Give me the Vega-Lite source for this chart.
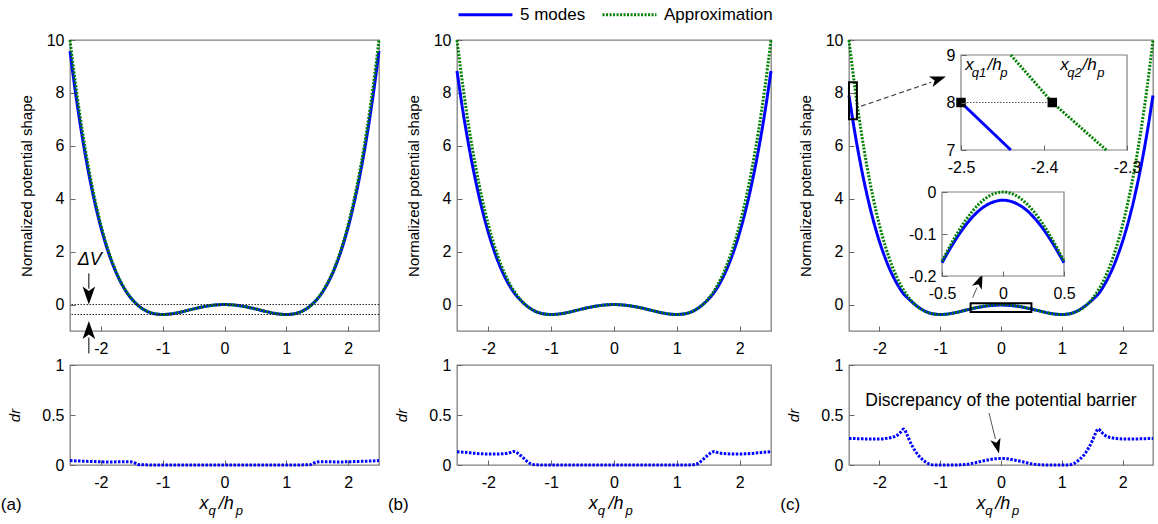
{
"$schema": "https://vega.github.io/schema/vega-lite/v6.json",
"padding": {"left": 0, "top": -15, "right": 0, "bottom": 0},
"background": "#ffffff",
"columns": 3,
"bounds": "flush",
"spacing": {"row": 34, "column": 78},
"resolve": {"legend": {"color": "independent", "strokeDash": "independent"}},
"config": {
 "font": "Liberation Sans",
 "view": {"stroke": "#808080", "strokeWidth": 1.3},
 "axis": {"domain": false, "grid": false, "ticks": true, "tickSize": -5, "tickColor": "#666666", "tickWidth": 1, "labelFontSize": 16, "labelColor": "#000000", "titleFontSize": 15, "titleFontWeight": "normal", "titleColor": "#000000", "labelFlush": false, "labelOverlap": false},
 "axisX": {"labelPadding": 14},
 "axisY": {"labelPadding": 11}
},
"datasets": {
"pot": [
{"p":"a","x":-2.5,"m":9.579,"a":10,"d":0.044},
{"p":"a","x":-2.4,"m":7.832,"a":8.153,"d":0.041},
{"p":"a","x":-2.3,"m":6.312,"a":6.552,"d":0.038},
{"p":"a","x":-2.2,"m":4.995,"a":5.175,"d":0.036},
{"p":"a","x":-2.1,"m":3.870,"a":4.001,"d":0.034},
{"p":"a","x":-2,"m":2.918,"a":3.012,"d":0.032},
{"p":"a","x":-1.9,"m":2.122,"a":2.188,"d":0.031},
{"p":"a","x":-1.8,"m":1.467,"a":1.513,"d":0.031},
{"p":"a","x":-1.7,"m":0.938,"a":0.968,"d":0.032},
{"p":"a","x":-1.65,"m":0.718,"a":0.741,"d":0.032},
{"p":"a","x":-1.6,"m":0.523,"a":0.540,"d":0.033},
{"p":"a","x":-1.55,"m":0.352,"a":0.364,"d":0.033},
{"p":"a","x":-1.5,"m":0.206,"a":0.212,"d":0.03},
{"p":"a","x":-1.45,"m":0.080,"a":0.081,"d":0.02},
{"p":"a","x":-1.4,"m":-0.029,"a":-0.030,"d":0.005},
{"p":"a","x":-1.35,"m":-0.121,"a":-0.122,"d":0.003},
{"p":"a","x":-1.3,"m":-0.197,"a":-0.197,"d":0.002},
{"p":"a","x":-1.25,"m":-0.257,"a":-0.257,"d":0.001},
{"p":"a","x":-1.2,"m":-0.304,"a":-0.304,"d":0},
{"p":"a","x":-1.15,"m":-0.337,"a":-0.337,"d":0},
{"p":"a","x":-1.1,"m":-0.360,"a":-0.360,"d":0},
{"p":"a","x":-1,"m":-0.376,"a":-0.376,"d":0},
{"p":"a","x":-0.9,"m":-0.363,"a":-0.363,"d":0},
{"p":"a","x":-0.8,"m":-0.328,"a":-0.328,"d":0},
{"p":"a","x":-0.7,"m":-0.279,"a":-0.279,"d":0},
{"p":"a","x":-0.6,"m":-0.222,"a":-0.222,"d":0},
{"p":"a","x":-0.5,"m":-0.165,"a":-0.165,"d":0},
{"p":"a","x":-0.4,"m":-0.111,"a":-0.111,"d":0},
{"p":"a","x":-0.3,"m":-0.065,"a":-0.065,"d":0},
{"p":"a","x":-0.2,"m":-0.030,"a":-0.030,"d":0},
{"p":"a","x":-0.1,"m":-0.008,"a":-0.008,"d":0},
{"p":"a","x":0,"m":0,"a":0,"d":0},
{"p":"a","x":0.1,"m":-0.008,"a":-0.008,"d":0},
{"p":"a","x":0.2,"m":-0.030,"a":-0.030,"d":0},
{"p":"a","x":0.3,"m":-0.065,"a":-0.065,"d":0},
{"p":"a","x":0.4,"m":-0.111,"a":-0.111,"d":0},
{"p":"a","x":0.5,"m":-0.165,"a":-0.165,"d":0},
{"p":"a","x":0.6,"m":-0.222,"a":-0.222,"d":0},
{"p":"a","x":0.7,"m":-0.279,"a":-0.279,"d":0},
{"p":"a","x":0.8,"m":-0.328,"a":-0.328,"d":0},
{"p":"a","x":0.9,"m":-0.363,"a":-0.363,"d":0},
{"p":"a","x":1,"m":-0.376,"a":-0.376,"d":0},
{"p":"a","x":1.1,"m":-0.360,"a":-0.360,"d":0},
{"p":"a","x":1.15,"m":-0.337,"a":-0.337,"d":0},
{"p":"a","x":1.2,"m":-0.304,"a":-0.304,"d":0},
{"p":"a","x":1.25,"m":-0.257,"a":-0.257,"d":0.001},
{"p":"a","x":1.3,"m":-0.197,"a":-0.197,"d":0.002},
{"p":"a","x":1.35,"m":-0.121,"a":-0.122,"d":0.003},
{"p":"a","x":1.4,"m":-0.029,"a":-0.030,"d":0.005},
{"p":"a","x":1.45,"m":0.080,"a":0.081,"d":0.02},
{"p":"a","x":1.5,"m":0.206,"a":0.212,"d":0.03},
{"p":"a","x":1.55,"m":0.352,"a":0.364,"d":0.033},
{"p":"a","x":1.6,"m":0.523,"a":0.540,"d":0.033},
{"p":"a","x":1.65,"m":0.718,"a":0.741,"d":0.032},
{"p":"a","x":1.7,"m":0.938,"a":0.968,"d":0.032},
{"p":"a","x":1.8,"m":1.467,"a":1.513,"d":0.031},
{"p":"a","x":1.9,"m":2.122,"a":2.188,"d":0.031},
{"p":"a","x":2,"m":2.918,"a":3.012,"d":0.032},
{"p":"a","x":2.1,"m":3.870,"a":4.001,"d":0.034},
{"p":"a","x":2.2,"m":4.995,"a":5.175,"d":0.036},
{"p":"a","x":2.3,"m":6.312,"a":6.552,"d":0.038},
{"p":"a","x":2.4,"m":7.832,"a":8.153,"d":0.041},
{"p":"a","x":2.5,"m":9.579,"a":10,"d":0.044},
{"p":"b","x":-2.5,"m":8.826,"a":10,"d":0.133},
{"p":"b","x":-2.4,"m":7.228,"a":8.153,"d":0.128},
{"p":"b","x":-2.3,"m":5.840,"a":6.552,"d":0.122},
{"p":"b","x":-2.2,"m":4.637,"a":5.175,"d":0.116},
{"p":"b","x":-2.1,"m":3.598,"a":4.001,"d":0.112},
{"p":"b","x":-2,"m":2.713,"a":3.012,"d":0.11},
{"p":"b","x":-1.9,"m":1.971,"a":2.188,"d":0.11},
{"p":"b","x":-1.8,"m":1.360,"a":1.513,"d":0.112},
{"p":"b","x":-1.7,"m":0.866,"a":0.968,"d":0.118},
{"p":"b","x":-1.65,"m":0.658,"a":0.741,"d":0.125},
{"p":"b","x":-1.6,"m":0.476,"a":0.540,"d":0.135},
{"p":"b","x":-1.55,"m":0.324,"a":0.364,"d":0.125},
{"p":"b","x":-1.5,"m":0.193,"a":0.212,"d":0.10},
{"p":"b","x":-1.45,"m":0.075,"a":0.081,"d":0.075},
{"p":"b","x":-1.4,"m":-0.028,"a":-0.030,"d":0.045},
{"p":"b","x":-1.35,"m":-0.119,"a":-0.122,"d":0.02},
{"p":"b","x":-1.3,"m":-0.196,"a":-0.197,"d":0.006},
{"p":"b","x":-1.25,"m":-0.257,"a":-0.257,"d":0.002},
{"p":"b","x":-1.2,"m":-0.304,"a":-0.304,"d":0.001},
{"p":"b","x":-1.15,"m":-0.337,"a":-0.337,"d":0},
{"p":"b","x":-1.1,"m":-0.360,"a":-0.360,"d":0},
{"p":"b","x":-1,"m":-0.376,"a":-0.376,"d":0},
{"p":"b","x":-0.9,"m":-0.363,"a":-0.363,"d":0},
{"p":"b","x":-0.8,"m":-0.328,"a":-0.328,"d":0},
{"p":"b","x":-0.7,"m":-0.279,"a":-0.279,"d":0},
{"p":"b","x":-0.6,"m":-0.222,"a":-0.222,"d":0},
{"p":"b","x":-0.5,"m":-0.165,"a":-0.165,"d":0},
{"p":"b","x":-0.4,"m":-0.111,"a":-0.111,"d":0},
{"p":"b","x":-0.3,"m":-0.065,"a":-0.065,"d":0},
{"p":"b","x":-0.2,"m":-0.030,"a":-0.030,"d":0},
{"p":"b","x":-0.1,"m":-0.008,"a":-0.008,"d":0},
{"p":"b","x":0,"m":0,"a":0,"d":0},
{"p":"b","x":0.1,"m":-0.008,"a":-0.008,"d":0},
{"p":"b","x":0.2,"m":-0.030,"a":-0.030,"d":0},
{"p":"b","x":0.3,"m":-0.065,"a":-0.065,"d":0},
{"p":"b","x":0.4,"m":-0.111,"a":-0.111,"d":0},
{"p":"b","x":0.5,"m":-0.165,"a":-0.165,"d":0},
{"p":"b","x":0.6,"m":-0.222,"a":-0.222,"d":0},
{"p":"b","x":0.7,"m":-0.279,"a":-0.279,"d":0},
{"p":"b","x":0.8,"m":-0.328,"a":-0.328,"d":0},
{"p":"b","x":0.9,"m":-0.363,"a":-0.363,"d":0},
{"p":"b","x":1,"m":-0.376,"a":-0.376,"d":0},
{"p":"b","x":1.1,"m":-0.360,"a":-0.360,"d":0},
{"p":"b","x":1.15,"m":-0.337,"a":-0.337,"d":0},
{"p":"b","x":1.2,"m":-0.304,"a":-0.304,"d":0.001},
{"p":"b","x":1.25,"m":-0.257,"a":-0.257,"d":0.002},
{"p":"b","x":1.3,"m":-0.196,"a":-0.197,"d":0.006},
{"p":"b","x":1.35,"m":-0.119,"a":-0.122,"d":0.02},
{"p":"b","x":1.4,"m":-0.028,"a":-0.030,"d":0.045},
{"p":"b","x":1.45,"m":0.075,"a":0.081,"d":0.075},
{"p":"b","x":1.5,"m":0.193,"a":0.212,"d":0.10},
{"p":"b","x":1.55,"m":0.324,"a":0.364,"d":0.125},
{"p":"b","x":1.6,"m":0.476,"a":0.540,"d":0.135},
{"p":"b","x":1.65,"m":0.658,"a":0.741,"d":0.125},
{"p":"b","x":1.7,"m":0.866,"a":0.968,"d":0.118},
{"p":"b","x":1.8,"m":1.360,"a":1.513,"d":0.112},
{"p":"b","x":1.9,"m":1.971,"a":2.188,"d":0.11},
{"p":"b","x":2,"m":2.713,"a":3.012,"d":0.11},
{"p":"b","x":2.1,"m":3.598,"a":4.001,"d":0.112},
{"p":"b","x":2.2,"m":4.637,"a":5.175,"d":0.116},
{"p":"b","x":2.3,"m":5.840,"a":6.552,"d":0.122},
{"p":"b","x":2.4,"m":7.228,"a":8.153,"d":0.128},
{"p":"b","x":2.5,"m":8.826,"a":10,"d":0.133},
{"p":"c","x":-2.5,"m":7.905,"a":10,"d":0.265},
{"p":"c","x":-2.4,"m":6.451,"a":8.153,"d":0.264},
{"p":"c","x":-2.3,"m":5.192,"a":6.552,"d":0.262},
{"p":"c","x":-2.2,"m":4.107,"a":5.175,"d":0.26},
{"p":"c","x":-2.1,"m":3.176,"a":4.001,"d":0.26},
{"p":"c","x":-2,"m":2.390,"a":3.012,"d":0.26},
{"p":"c","x":-1.9,"m":1.730,"a":2.188,"d":0.265},
{"p":"c","x":-1.8,"m":1.186,"a":1.513,"d":0.275},
{"p":"c","x":-1.7,"m":0.745,"a":0.968,"d":0.30},
{"p":"c","x":-1.65,"m":0.557,"a":0.741,"d":0.33},
{"p":"c","x":-1.6,"m":0.397,"a":0.540,"d":0.36},
{"p":"c","x":-1.55,"m":0.278,"a":0.364,"d":0.31},
{"p":"c","x":-1.5,"m":0.171,"a":0.212,"d":0.24},
{"p":"c","x":-1.45,"m":0.069,"a":0.081,"d":0.18},
{"p":"c","x":-1.4,"m":-0.026,"a":-0.030,"d":0.13},
{"p":"c","x":-1.35,"m":-0.112,"a":-0.122,"d":0.09},
{"p":"c","x":-1.3,"m":-0.186,"a":-0.197,"d":0.06},
{"p":"c","x":-1.25,"m":-0.249,"a":-0.257,"d":0.035},
{"p":"c","x":-1.2,"m":-0.299,"a":-0.304,"d":0.015},
{"p":"c","x":-1.15,"m":-0.336,"a":-0.337,"d":0.004},
{"p":"c","x":-1.1,"m":-0.360,"a":-0.360,"d":0},
{"p":"c","x":-1,"m":-0.376,"a":-0.376,"d":0},
{"p":"c","x":-0.9,"m":-0.363,"a":-0.363,"d":0},
{"p":"c","x":-0.8,"m":-0.328,"a":-0.328,"d":0},
{"p":"c","x":-0.7,"m":-0.279,"a":-0.279,"d":0.001},
{"p":"c","x":-0.6,"m":-0.2235,"a":-0.2223,"d":0.004},
{"p":"c","x":-0.5,"m":-0.1686,"a":-0.1647,"d":0.013},
{"p":"c","x":-0.4,"m":-0.1186,"a":-0.1108,"d":0.026},
{"p":"c","x":-0.3,"m":-0.0767,"a":-0.0647,"d":0.04},
{"p":"c","x":-0.2,"m":-0.0451,"a":-0.0295,"d":0.052},
{"p":"c","x":-0.1,"m":-0.0261,"a":-0.0075,"d":0.062},
{"p":"c","x":0,"m":-0.0195,"a":0,"d":0.065},
{"p":"c","x":0.1,"m":-0.0261,"a":-0.0075,"d":0.062},
{"p":"c","x":0.2,"m":-0.0451,"a":-0.0295,"d":0.052},
{"p":"c","x":0.3,"m":-0.0767,"a":-0.0647,"d":0.04},
{"p":"c","x":0.4,"m":-0.1186,"a":-0.1108,"d":0.026},
{"p":"c","x":0.5,"m":-0.1686,"a":-0.1647,"d":0.013},
{"p":"c","x":0.6,"m":-0.2235,"a":-0.2223,"d":0.004},
{"p":"c","x":0.7,"m":-0.279,"a":-0.279,"d":0.001},
{"p":"c","x":0.8,"m":-0.328,"a":-0.328,"d":0},
{"p":"c","x":0.9,"m":-0.363,"a":-0.363,"d":0},
{"p":"c","x":1,"m":-0.376,"a":-0.376,"d":0},
{"p":"c","x":1.1,"m":-0.360,"a":-0.360,"d":0},
{"p":"c","x":1.15,"m":-0.336,"a":-0.337,"d":0.004},
{"p":"c","x":1.2,"m":-0.299,"a":-0.304,"d":0.015},
{"p":"c","x":1.25,"m":-0.249,"a":-0.257,"d":0.035},
{"p":"c","x":1.3,"m":-0.186,"a":-0.197,"d":0.06},
{"p":"c","x":1.35,"m":-0.112,"a":-0.122,"d":0.09},
{"p":"c","x":1.4,"m":-0.026,"a":-0.030,"d":0.13},
{"p":"c","x":1.45,"m":0.069,"a":0.081,"d":0.18},
{"p":"c","x":1.5,"m":0.171,"a":0.212,"d":0.24},
{"p":"c","x":1.55,"m":0.278,"a":0.364,"d":0.31},
{"p":"c","x":1.6,"m":0.397,"a":0.540,"d":0.36},
{"p":"c","x":1.65,"m":0.557,"a":0.741,"d":0.33},
{"p":"c","x":1.7,"m":0.745,"a":0.968,"d":0.30},
{"p":"c","x":1.8,"m":1.186,"a":1.513,"d":0.275},
{"p":"c","x":1.9,"m":1.730,"a":2.188,"d":0.265},
{"p":"c","x":2,"m":2.390,"a":3.012,"d":0.26},
{"p":"c","x":2.1,"m":3.176,"a":4.001,"d":0.26},
{"p":"c","x":2.2,"m":4.107,"a":5.175,"d":0.26},
{"p":"c","x":2.3,"m":5.192,"a":6.552,"d":0.262},
{"p":"c","x":2.4,"m":6.451,"a":8.153,"d":0.264},
{"p":"c","x":2.5,"m":7.905,"a":10,"d":0.265}
]
},
"concat": [
  {
   "width": 309, "height": 291,
   "layer": [
    {"data": {"name": "pot"}, "transform": [{"filter": "datum.p == 'a'"}, {"fold": ["m", "a"], "as": ["series", "V"]}],
     "mark": {"type": "line", "strokeWidth": 3, "interpolate": "monotone"},
     "encoding": {
      "x": {"field": "x", "type": "quantitative", "scale": {"domain": [-2.5, 2.5], "nice": false, "zero": false}, "axis": {"values": [-2, -1, 0, 1, 2], "title": null, "labelExpr": "'' + datum.value"}},
      "y": {"field": "V", "type": "quantitative", "scale": {"domain": [-1, 10], "nice": false, "zero": false}, "axis": {"values": [0, 2, 4, 6, 8, 10], "title": "Normalized potential shape", "titlePadding": 12, "labelExpr": "'' + datum.value"}},
      "color": {"field": "series", "type": "nominal", "scale": {"domain": ["m", "a"], "range": ["#0000ff", "#008000"]}, "legend": null},
      "strokeDash": {"field": "series", "type": "nominal", "scale": {"domain": ["m", "a"], "range": [[1, 0], [2, 1.5]]}, "legend": null}
     }},
    {"data": {"values": [{}]}, "mark": {"type": "rule", "color": "#222222", "strokeWidth": 1, "strokeDash": [1.5, 1.5]}, "encoding": {"y": {"datum": 0}}},
    {"data": {"values": [{}]}, "mark": {"type": "rule", "color": "#222222", "strokeWidth": 1, "strokeDash": [1.5, 1.5]}, "encoding": {"y": {"datum": -0.376}}},
    {"data": {"values": [{}]}, "mark": {"type": "text", "text": "ΔV", "fontSize": 18, "fontStyle": "italic", "align": "center", "baseline": "middle"}, "encoding": {"x": {"datum": -2.18}, "y": {"datum": 1.7}}},
    {"data": {"values": [{}]}, "mark": {"type": "rule", "color": "#000000", "strokeWidth": 1}, "encoding": {"x": {"datum": -2.195}, "y": {"datum": 1.18}, "y2": {"datum": 0.6}}},
    {"data": {"values": [{}]}, "mark": {"type": "point", "shape": "M1,0L-1,-0.7L-0.5,0L-1,0.7Z", "filled": true, "color": "#000000", "opacity": 1, "size": 324, "angle": 90}, "encoding": {"x": {"datum": -2.195}, "y": {"datum": 0.34}}},
    {"data": {"values": [{}]}, "mark": {"type": "rule", "color": "#000000", "strokeWidth": 1}, "encoding": {"x": {"datum": -2.195}, "y": {"datum": -1.25}, "y2": {"datum": -1.85}}},
    {"data": {"values": [{}]}, "mark": {"type": "point", "shape": "M1,0L-1,-0.7L-0.5,0L-1,0.7Z", "filled": true, "color": "#000000", "opacity": 1, "size": 324, "angle": -90}, "encoding": {"x": {"datum": -2.195}, "y": {"datum": -0.96}}}
   ]
  },
  {
   "width": 314, "height": 291,
   "layer": [
    {"data": {"name": "pot"}, "transform": [{"filter": "datum.p == 'b'"}, {"fold": ["m", "a"], "as": ["series", "V"]}],
     "mark": {"type": "line", "strokeWidth": 3, "interpolate": "monotone"},
     "encoding": {
      "x": {"field": "x", "type": "quantitative", "scale": {"domain": [-2.5, 2.5], "nice": false, "zero": false}, "axis": {"values": [-2, -1, 0, 1, 2], "title": null, "labelExpr": "'' + datum.value"}},
      "y": {"field": "V", "type": "quantitative", "scale": {"domain": [-1, 10], "nice": false, "zero": false}, "axis": {"values": [0, 2, 4, 6, 8, 10], "title": "Normalized potential shape", "titlePadding": 12, "labelExpr": "'' + datum.value"}},
      "color": {"field": "series", "type": "nominal", "scale": {"domain": ["m", "a"], "range": ["#0000ff", "#008000"]},
        "legend": {"orient": "top", "offset": 11, "direction": "horizontal", "title": null, "symbolType": "stroke", "symbolSize": 2900, "symbolStrokeWidth": 3, "labelFontSize": 17, "labelColor": "#000000", "labelOffset": 6, "columnPadding": 10, "labelExpr": "datum.label == 'm' ? '5 modes' : 'Approximation'"}},
      "strokeDash": {"field": "series", "type": "nominal", "scale": {"domain": ["m", "a"], "range": [[1, 0], [2, 1.5]]},
        "legend": {"orient": "top", "offset": 11, "direction": "horizontal", "title": null, "symbolType": "stroke", "symbolSize": 2900, "symbolStrokeWidth": 3, "labelFontSize": 17, "labelColor": "#000000", "labelOffset": 6, "columnPadding": 10, "labelExpr": "datum.label == 'm' ? '5 modes' : 'Approximation'"}}
     }}
   ]
  },
  {
   "width": 304, "height": 291,
   "resolve": {"scale": {"x": "independent", "y": "independent"}, "axis": {"x": "independent", "y": "independent"}},
   "layer": [
    {"layer": [
     {"data": {"name": "pot"}, "transform": [{"filter": "datum.p == 'c'"}, {"fold": ["m", "a"], "as": ["series", "V"]}],
      "mark": {"type": "line", "strokeWidth": 3, "interpolate": "monotone"},
      "encoding": {
       "x": {"field": "x", "type": "quantitative", "scale": {"domain": [-2.5, 2.5], "nice": false, "zero": false}, "axis": {"orient": "bottom", "values": [-2, -1, 0, 1, 2], "title": null, "labelExpr": "'' + datum.value"}},
       "y": {"field": "V", "type": "quantitative", "scale": {"domain": [-1, 10], "nice": false, "zero": false}, "axis": {"orient": "left", "values": [0, 2, 4, 6, 8, 10], "title": "Normalized potential shape", "titlePadding": 12, "labelExpr": "'' + datum.value"}},
       "color": {"field": "series", "type": "nominal", "scale": {"domain": ["m", "a"], "range": ["#0000ff", "#008000"]}, "legend": null},
       "strokeDash": {"field": "series", "type": "nominal", "scale": {"domain": ["m", "a"], "range": [[1, 0], [2, 1.5]]}, "legend": null}
      }},
     {"data": {"values": [{}]}, "mark": {"type": "rect", "fillOpacity": 0, "stroke": "#000000", "strokeWidth": 2}, "encoding": {"x": {"datum": -2.5}, "x2": {"datum": -2.37}, "y": {"datum": 7.0}, "y2": {"datum": 8.4}}},
     {"data": {"values": [{}]}, "mark": {"type": "rule", "color": "#444444", "strokeWidth": 1.2, "strokeDash": [5, 3]}, "encoding": {"x": {"datum": -2.3}, "y": {"datum": 7.5}, "x2": {"datum": -1.15}, "y2": {"datum": 8.4}}},
     {"data": {"values": [{}]}, "mark": {"type": "point", "shape": "M1,0L-1,-0.7L-0.5,0L-1,0.7Z", "filled": true, "color": "#000000", "opacity": 1, "size": 256, "angle": -19.4}, "encoding": {"x": {"datum": -1.03}, "y": {"datum": 8.52}}},
     {"data": {"values": [{}]}, "mark": {"type": "rect", "fillOpacity": 0, "stroke": "#000000", "strokeWidth": 2}, "encoding": {"x": {"datum": -0.5}, "x2": {"datum": 0.5}, "y": {"datum": -0.28}, "y2": {"datum": 0.05}}},
     {"data": {"values": [{}]}, "mark": {"type": "rule", "color": "#555555", "strokeWidth": 1}, "encoding": {"x": {"datum": -0.466}, "y": {"datum": 0.26}, "x2": {"datum": -0.395}, "y2": {"datum": 0.64}}},
     {"data": {"values": [{}]}, "mark": {"type": "point", "shape": "M1,0L-1,-0.7L-0.5,0L-1,0.7Z", "filled": true, "color": "#000000", "opacity": 1, "size": 225, "angle": -67.4}, "encoding": {"x": {"datum": -0.349}, "y": {"datum": 0.9}}}
    ]},
    {"layer": [
     {"data": {"values": [{}]}, "mark": {"type": "rect", "fill": "#ffffff", "stroke": "#808080", "strokeWidth": 1.2},
      "encoding": {"x": {"datum": -2.5, "type": "quantitative", "scale": {"domain": [-2.5, -2.3], "range": [112, 278], "nice": false, "zero": false}, "axis": {"orient": "bottom", "offset": -181, "values": [-2.5, -2.4, -2.3], "title": null, "zindex": 1, "labelExpr": "'' + datum.value"}}, "x2": {"datum": -2.3},
       "y": {"datum": 7, "type": "quantitative", "scale": {"domain": [7, 9], "range": [110, 15], "nice": false, "zero": false}, "axis": {"orient": "left", "offset": -112, "values": [7, 8, 9], "title": null, "zindex": 1, "labelExpr": "'' + datum.value"}}, "y2": {"datum": 9}}},
     {"data": {"values": [{"x": -2.5, "v": 8}, {"x": -2.44, "v": 7}]}, "mark": {"type": "line", "color": "#0000ff", "strokeWidth": 3},
      "encoding": {"x": {"field": "x", "type": "quantitative", "scale": {"domain": [-2.5, -2.3], "range": [112, 278], "nice": false, "zero": false}, "axis": {"orient": "bottom", "offset": -181, "values": [-2.5, -2.4, -2.3], "title": null, "zindex": 1, "labelExpr": "'' + datum.value"}}, "y": {"field": "v", "type": "quantitative", "scale": {"domain": [7, 9], "range": [110, 15], "nice": false, "zero": false}, "axis": {"orient": "left", "offset": -112, "values": [7, 8, 9], "title": null, "zindex": 1, "labelExpr": "'' + datum.value"}}}},
     {"data": {"values": [{"x": -2.44, "v": 9}, {"x": -2.39, "v": 8}, {"x": -2.325, "v": 7}]}, "mark": {"type": "line", "color": "#008000", "strokeWidth": 3, "strokeDash": [2, 1.5]},
      "encoding": {"x": {"field": "x", "type": "quantitative", "scale": {"domain": [-2.5, -2.3], "range": [112, 278], "nice": false, "zero": false}}, "y": {"field": "v", "type": "quantitative", "scale": {"domain": [7, 9], "range": [110, 15], "nice": false, "zero": false}}}},
     {"data": {"values": [{}]}, "mark": {"type": "rule", "color": "#555555", "strokeWidth": 1, "strokeDash": [1.5, 1.5]}, "encoding": {"x": {"datum": -2.5}, "x2": {"datum": -2.39}, "y": {"datum": 8}}},
     {"data": {"values": [{"x": -2.5, "v": 8}, {"x": -2.39, "v": 8}]}, "mark": {"type": "point", "shape": "square", "filled": true, "color": "#000000", "opacity": 1, "size": 90},
      "encoding": {"x": {"field": "x", "type": "quantitative"}, "y": {"field": "v", "type": "quantitative"}}},
     {"data": {"values": [{}]}, "mark": {"type": "text", "text": "x", "fontSize": 17, "fontStyle": "italic", "align": "center", "baseline": "alphabetic"}, "encoding": {"x": {"datum": -2.4898}, "y": {"datum": 8.69}}},
     {"data": {"values": [{}]}, "mark": {"type": "text", "text": "q1", "fontSize": 13, "fontStyle": "italic", "align": "center", "baseline": "alphabetic"}, "encoding": {"x": {"datum": -2.4783}, "y": {"datum": 8.53}}},
     {"data": {"values": [{}]}, "mark": {"type": "text", "text": "/h", "fontSize": 17, "fontStyle": "italic", "align": "center", "baseline": "alphabetic"}, "encoding": {"x": {"datum": -2.4596}, "y": {"datum": 8.69}}},
     {"data": {"values": [{}]}, "mark": {"type": "text", "text": "p", "fontSize": 13, "fontStyle": "italic", "align": "center", "baseline": "alphabetic"}, "encoding": {"x": {"datum": -2.4485}, "y": {"datum": 8.53}}},
     {"data": {"values": [{}]}, "mark": {"type": "text", "text": "x", "fontSize": 17, "fontStyle": "italic", "align": "center", "baseline": "alphabetic"}, "encoding": {"x": {"datum": -2.3753}, "y": {"datum": 8.69}}},
     {"data": {"values": [{}]}, "mark": {"type": "text", "text": "q2", "fontSize": 13, "fontStyle": "italic", "align": "center", "baseline": "alphabetic"}, "encoding": {"x": {"datum": -2.3633}, "y": {"datum": 8.53}}},
     {"data": {"values": [{}]}, "mark": {"type": "text", "text": "/h", "fontSize": 17, "fontStyle": "italic", "align": "center", "baseline": "alphabetic"}, "encoding": {"x": {"datum": -2.345}, "y": {"datum": 8.69}}},
     {"data": {"values": [{}]}, "mark": {"type": "text", "text": "p", "fontSize": 13, "fontStyle": "italic", "align": "center", "baseline": "alphabetic"}, "encoding": {"x": {"datum": -2.3315}, "y": {"datum": 8.53}}}
    ]},
    {"layer": [
     {"data": {"values": [{}]}, "mark": {"type": "rect", "fill": "#ffffff", "stroke": "#808080", "strokeWidth": 1.2},
      "encoding": {"x": {"datum": -0.5, "type": "quantitative", "scale": {"domain": [-0.5, 0.5], "range": [93, 215], "nice": false, "zero": false}, "axis": {"orient": "bottom", "offset": -55, "values": [-0.5, 0, 0.5], "title": null, "zindex": 1, "labelExpr": "'' + datum.value"}}, "x2": {"datum": 0.5},
       "y": {"datum": -0.2, "type": "quantitative", "scale": {"domain": [-0.2, 0], "range": [236, 152], "nice": false, "zero": false}, "axis": {"orient": "left", "offset": -93, "values": [-0.2, -0.1, 0], "title": null, "zindex": 1, "labelExpr": "'' + datum.value"}}, "y2": {"datum": 0}}},
     {"data": {"name": "pot"}, "transform": [{"filter": "datum.p == 'c' && datum.x >= -0.5 && datum.x <= 0.5"}, {"fold": ["m", "a"], "as": ["series", "V"]}],
      "mark": {"type": "line", "strokeWidth": 3, "interpolate": "monotone"},
      "encoding": {
       "x": {"field": "x", "type": "quantitative", "scale": {"domain": [-0.5, 0.5], "range": [93, 215], "nice": false, "zero": false}, "axis": {"orient": "bottom", "offset": -55, "values": [-0.5, 0, 0.5], "title": null, "zindex": 1, "labelExpr": "'' + datum.value"}},
       "y": {"field": "V", "type": "quantitative", "scale": {"domain": [-0.2, 0], "range": [236, 152], "nice": false, "zero": false}, "axis": {"orient": "left", "offset": -93, "values": [-0.2, -0.1, 0], "title": null, "zindex": 1, "labelExpr": "'' + datum.value"}},
       "color": {"field": "series", "type": "nominal", "scale": {"domain": ["m", "a"], "range": ["#0000ff", "#008000"]}, "legend": null},
       "strokeDash": {"field": "series", "type": "nominal", "scale": {"domain": ["m", "a"], "range": [[1, 0], [2, 1.5]]}, "legend": null}
      }}
    ]}
   ]
  },
  {
   "width": 309, "height": 100,
   "layer": [
    {"data": {"name": "pot"}, "transform": [{"filter": "datum.p == 'a'"}],
     "mark": {"type": "line", "color": "#0000ff", "strokeWidth": 3, "strokeDash": [2.5, 1.5], "interpolate": "monotone"},
     "encoding": {
      "x": {"field": "x", "type": "quantitative", "scale": {"domain": [-2.5, 2.5], "nice": false, "zero": false}, "axis": {"values": [-2, -1, 0, 1, 2], "title": null, "labelExpr": "'' + datum.value"}},
      "y": {"field": "d", "type": "quantitative", "scale": {"domain": [0, 1], "nice": false, "zero": false}, "axis": {"values": [0, 0.5, 1], "title": "dr", "titleFontStyle": "italic", "titlePadding": 19, "labelExpr": "'' + datum.value"}}
     }},
    {"data": {"values": [{}]}, "mark": {"type": "text", "text": "x", "fontSize": 18, "fontStyle": "italic", "align": "center", "baseline": "alphabetic"}, "encoding": {"x": {"datum": -0.33}, "y": {"datum": -0.44}}},
    {"data": {"values": [{}]}, "mark": {"type": "text", "text": "q", "fontSize": 13, "fontStyle": "italic", "align": "center", "baseline": "alphabetic"}, "encoding": {"x": {"datum": -0.2}, "y": {"datum": -0.5}}},
    {"data": {"values": [{}]}, "mark": {"type": "text", "text": "/h", "fontSize": 18, "fontStyle": "italic", "align": "center", "baseline": "alphabetic"}, "encoding": {"x": {"datum": 0.03}, "y": {"datum": -0.44}}},
    {"data": {"values": [{}]}, "mark": {"type": "text", "text": "p", "fontSize": 13, "fontStyle": "italic", "align": "center", "baseline": "alphabetic"}, "encoding": {"x": {"datum": 0.24}, "y": {"datum": -0.5}}},
    {"data": {"values": [{}]}, "mark": {"type": "text", "text": "(a)", "fontSize": 17, "align": "left", "baseline": "alphabetic"}, "encoding": {"x": {"datum": -3.62}, "y": {"datum": -0.45}}}
   ]
  },
  {
   "width": 314, "height": 100,
   "layer": [
    {"data": {"name": "pot"}, "transform": [{"filter": "datum.p == 'b'"}],
     "mark": {"type": "line", "color": "#0000ff", "strokeWidth": 3, "strokeDash": [2.5, 1.5], "interpolate": "monotone"},
     "encoding": {
      "x": {"field": "x", "type": "quantitative", "scale": {"domain": [-2.5, 2.5], "nice": false, "zero": false}, "axis": {"values": [-2, -1, 0, 1, 2], "title": null, "labelExpr": "'' + datum.value"}},
      "y": {"field": "d", "type": "quantitative", "scale": {"domain": [0, 1], "nice": false, "zero": false}, "axis": {"values": [0, 0.5, 1], "title": "dr", "titleFontStyle": "italic", "titlePadding": 19, "labelExpr": "'' + datum.value"}}
     }},
    {"data": {"values": [{}]}, "mark": {"type": "text", "text": "x", "fontSize": 18, "fontStyle": "italic", "align": "center", "baseline": "alphabetic"}, "encoding": {"x": {"datum": -0.33}, "y": {"datum": -0.44}}},
    {"data": {"values": [{}]}, "mark": {"type": "text", "text": "q", "fontSize": 13, "fontStyle": "italic", "align": "center", "baseline": "alphabetic"}, "encoding": {"x": {"datum": -0.2}, "y": {"datum": -0.5}}},
    {"data": {"values": [{}]}, "mark": {"type": "text", "text": "/h", "fontSize": 18, "fontStyle": "italic", "align": "center", "baseline": "alphabetic"}, "encoding": {"x": {"datum": 0.03}, "y": {"datum": -0.44}}},
    {"data": {"values": [{}]}, "mark": {"type": "text", "text": "p", "fontSize": 13, "fontStyle": "italic", "align": "center", "baseline": "alphabetic"}, "encoding": {"x": {"datum": 0.24}, "y": {"datum": -0.5}}},
    {"data": {"values": [{}]}, "mark": {"type": "text", "text": "(b)", "fontSize": 17, "align": "left", "baseline": "alphabetic"}, "encoding": {"x": {"datum": -3.6}, "y": {"datum": -0.45}}}
   ]
  },
  {
   "width": 304, "height": 100,
   "layer": [
    {"data": {"name": "pot"}, "transform": [{"filter": "datum.p == 'c'"}],
     "mark": {"type": "line", "color": "#0000ff", "strokeWidth": 3, "strokeDash": [2.5, 1.5], "interpolate": "monotone"},
     "encoding": {
      "x": {"field": "x", "type": "quantitative", "scale": {"domain": [-2.5, 2.5], "nice": false, "zero": false}, "axis": {"values": [-2, -1, 0, 1, 2], "title": null, "labelExpr": "'' + datum.value"}},
      "y": {"field": "d", "type": "quantitative", "scale": {"domain": [0, 1], "nice": false, "zero": false}, "axis": {"values": [0, 0.5, 1], "title": "dr", "titleFontStyle": "italic", "titlePadding": 19, "labelExpr": "'' + datum.value"}}
     }},
    {"data": {"values": [{}]}, "mark": {"type": "text", "text": "Discrepancy of the potential barrier", "fontSize": 17.5, "align": "center", "baseline": "middle"}, "encoding": {"x": {"datum": 0}, "y": {"datum": 0.64}}},
    {"data": {"values": [{}]}, "mark": {"type": "rule", "color": "#555555", "strokeWidth": 1}, "encoding": {"x": {"datum": -0.197}, "y": {"datum": 0.52}, "x2": {"datum": -0.092}, "y2": {"datum": 0.26}}},
    {"data": {"values": [{}]}, "mark": {"type": "point", "shape": "M1,0L-1,-0.7L-0.5,0L-1,0.7Z", "filled": true, "color": "#000000", "opacity": 1, "size": 225, "angle": 76}, "encoding": {"x": {"datum": -0.0625}, "y": {"datum": 0.187}}},
    {"data": {"values": [{}]}, "mark": {"type": "text", "text": "x", "fontSize": 18, "fontStyle": "italic", "align": "center", "baseline": "alphabetic"}, "encoding": {"x": {"datum": -0.33}, "y": {"datum": -0.44}}},
    {"data": {"values": [{}]}, "mark": {"type": "text", "text": "q", "fontSize": 13, "fontStyle": "italic", "align": "center", "baseline": "alphabetic"}, "encoding": {"x": {"datum": -0.2}, "y": {"datum": -0.5}}},
    {"data": {"values": [{}]}, "mark": {"type": "text", "text": "/h", "fontSize": 18, "fontStyle": "italic", "align": "center", "baseline": "alphabetic"}, "encoding": {"x": {"datum": 0.03}, "y": {"datum": -0.44}}},
    {"data": {"values": [{}]}, "mark": {"type": "text", "text": "p", "fontSize": 13, "fontStyle": "italic", "align": "center", "baseline": "alphabetic"}, "encoding": {"x": {"datum": 0.24}, "y": {"datum": -0.5}}},
    {"data": {"values": [{}]}, "mark": {"type": "text", "text": "(c)", "fontSize": 17, "align": "left", "baseline": "alphabetic"}, "encoding": {"x": {"datum": -3.63}, "y": {"datum": -0.45}}}
   ]
  }
]
}
